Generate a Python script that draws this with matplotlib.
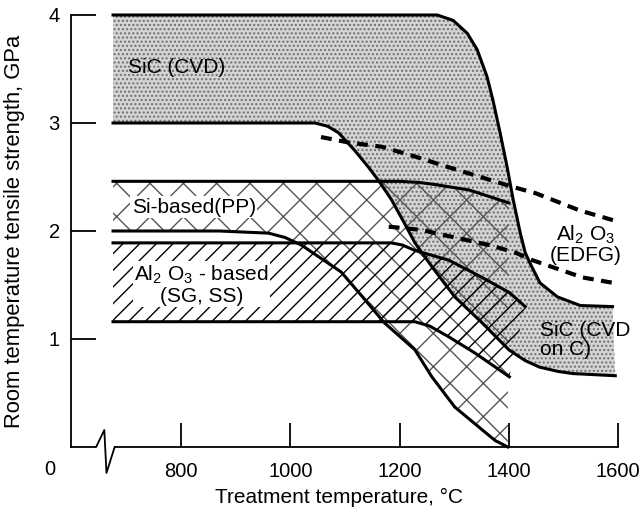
import matplotlib
matplotlib.use("Agg")
import matplotlib.pyplot as plt

plt.rcParams["font.family"] = ["Liberation Sans", "DejaVu Sans"]
plt.rcParams["mathtext.fontset"] = "custom"
plt.rcParams["mathtext.rm"] = "Liberation Sans"
plt.rcParams["mathtext.it"] = "Liberation Sans:italic"
plt.rcParams["hatch.linewidth"] = 1.0

# SiC (CVD) band, upper and lower boundary (temperature C, strength GPa)
sic_top_t = [675, 1269, 1298, 1324, 1342, 1360, 1371, 1384, 1397, 1408, 1421, 1430, 1439,
             1457, 1489, 1531, 1590]
sic_top_s = [4.0, 4.0, 3.95, 3.83, 3.68, 3.43, 3.21, 2.91, 2.59, 2.29, 1.98, 1.80, 1.70,
             1.52, 1.39, 1.31, 1.30]
sic_low_t = [675, 1045, 1068, 1088, 1117, 1143, 1161, 1185, 1209, 1228, 1259, 1301, 1351,
             1400, 1430, 1456, 1490, 1517, 1595]
sic_low_s = [3.0, 3.0, 2.97, 2.91, 2.75, 2.59, 2.47, 2.29, 2.07, 1.89, 1.67, 1.39, 1.15,
             0.90, 0.80, 0.74, 0.70, 0.68, 0.66]

# Si-based (PP) band
si_top_t = [675, 1200, 1235, 1265, 1327, 1370, 1400]
si_top_s = [2.46, 2.46, 2.45, 2.43, 2.38, 2.31, 2.26]
si_low_t = [675, 870, 960, 990, 1020, 1093, 1132, 1172, 1228, 1259, 1301, 1351, 1375, 1398]
si_low_s = [2.0, 2.0, 1.98, 1.94, 1.87, 1.62, 1.39, 1.15, 0.90, 0.65, 0.37, 0.16, 0.06, 0.0]

# Al2O3-based (SG, SS) band
al_top_t = [675, 1185, 1205, 1228, 1290, 1351, 1401, 1430]
al_top_s = [1.89, 1.89, 1.87, 1.82, 1.73, 1.57, 1.43, 1.30]
al_low_t = [675, 1228, 1255, 1290, 1338, 1401]
al_low_s = [1.16, 1.16, 1.12, 1.02, 0.87, 0.65]

# Al2O3 (EDFG) dashed limits
edfg_up_t = [1056, 1106, 1167, 1228, 1290, 1406, 1449, 1530, 1591]
edfg_up_s = [2.87, 2.82, 2.78, 2.69, 2.59, 2.41, 2.35, 2.19, 2.10]
edfg_lo_t = [1180, 1240, 1301, 1364, 1412, 1443, 1535, 1591]
edfg_lo_s = [2.04, 2.01, 1.94, 1.87, 1.80, 1.73, 1.57, 1.52]

xticks = [800, 1000, 1200, 1400, 1600]
yticks = [1, 2, 3, 4]

fig = plt.figure(figsize=(6.39, 5.12), dpi=100)
ax = fig.add_axes([71 / 639, 65 / 512, 547 / 639, 442.8 / 512])
ax.set_xlim(598, 1600)
ax.set_ylim(0, 4.1)

# shaded regions
ax.fill(sic_top_t + sic_low_t[::-1], sic_top_s + sic_low_s[::-1],
        facecolor="#d4d4d4", edgecolor="#6e6e6e", hatch="....", lw=0, zorder=1)
ax.fill(si_top_t + si_low_t[::-1], si_top_s + si_low_s[::-1],
        facecolor="none", edgecolor="#555555", hatch="x", lw=0, zorder=2)
ax.fill(al_top_t + al_low_t[::-1], al_top_s + al_low_s[::-1],
        facecolor="none", edgecolor="black", hatch="//", lw=0, zorder=3)

for t, s in [(sic_top_t, sic_top_s), (sic_low_t, sic_low_s), (si_top_t, si_top_s),
             (si_low_t, si_low_s), (al_top_t, al_top_s), (al_low_t, al_low_s)]:
    ax.plot(t, s, color="black", lw=2.2, zorder=5, clip_on=False, solid_joinstyle="round")

ax.plot(edfg_up_t, edfg_up_s, color="black", lw=3, dashes=(2.6, 1.8), zorder=6)
ax.plot(edfg_lo_t, edfg_lo_s, color="black", lw=3, dashes=(2.6, 1.8), zorder=6)

# labels inside
box = dict(facecolor="white", edgecolor="none", pad=1)
ax.text(702, 3.51, "SiC (CVD)", fontsize=15, va="center", ha="left", zorder=7)
ax.text(709, 2.22, "Si-based(PP)", fontsize=15, va="center", ha="left", bbox=box, zorder=7)
ax.text(837, 1.50, "Al$_2$ O$_3$ - based\n(SG, SS)", fontsize=15, va="center", ha="center",
        linespacing=1.05, bbox=box, zorder=7)
ax.text(1541, 1.88, "Al$_2$ O$_3$\n(EDFG)", fontsize=15, va="center", ha="center",
        linespacing=1.0, zorder=7)
ax.text(1458, 0.99, "SiC (CVD\non C)", fontsize=15, va="center", ha="left",
        linespacing=1.05, zorder=7)

# axes styling
for side in ["top", "right"]:
    ax.spines[side].set_visible(False)
ax.spines["left"].set_bounds(0, 4)
ax.spines["bottom"].set_bounds(678, 1600)
ax.spines["left"].set_linewidth(1.3)
ax.spines["bottom"].set_linewidth(1.3)

ax.set_xticks(xticks)
ax.set_yticks(yticks)
ax.tick_params(axis="x", direction="in", length=17, width=1.3, pad=11, labelsize=14.5)
ax.tick_params(axis="y", direction="in", length=18, width=1.3, pad=8, labelsize=14.5)

# axis break on the temperature axis
ax.plot([598, 644, 659, 663, 678], [0, 0, 0.157, -0.24, 0], color="black", lw=1.3, clip_on=False)
ax.annotate("0", xy=(0, 0), xycoords="axes fraction", xytext=(-15, -16.5),
            textcoords="offset points", ha="center", va="center", fontsize=14.5)

fig.text(15 / 639, 0.548, "Room temperature tensile strength, GPa", rotation=90,
         ha="center", va="center", fontsize=15.8)
fig.text(339 / 639, 15 / 512, "Treatment temperature, °C", ha="center", va="center", fontsize=15)

fig.savefig("out.png", dpi=100)
